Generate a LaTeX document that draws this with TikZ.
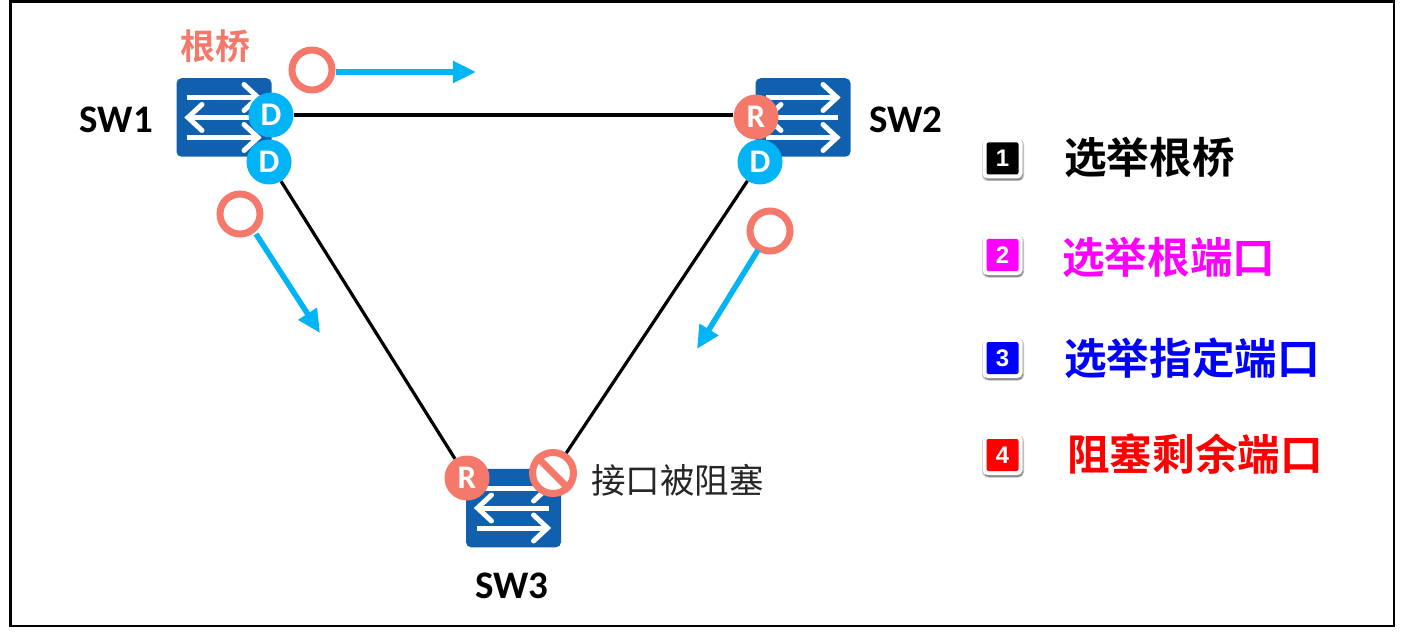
\documentclass[tikz,border=0pt]{standalone}
\usepackage{fontspec}
\setmainfont{Carlito}
\newfontfamily\cjk{Noto Sans CJK SC}
\newfontfamily\cjkb{Noto Sans CJK SC Bold}
\newfontfamily\digitfont{Liberation Sans Bold}
\usetikzlibrary{arrows.meta}
\definecolor{swblue}{HTML}{1160AE}
\definecolor{salmon}{HTML}{F4796A}
\definecolor{cyanb}{HTML}{00B4F6}
\definecolor{legmagenta}{HTML}{FF00FF}
\definecolor{legblue}{HTML}{0000FF}
\definecolor{legred}{HTML}{FF0000}
\tikzset{
  swbox/.style={fill=swblue,draw=none,rounded corners=5pt,minimum width=95pt,minimum height=78.5pt,inner sep=0pt},
  swname/.style={font=\bfseries\fontsize{39}{39}\selectfont,text=black,inner sep=0pt},
  port/.style={circle,minimum size=45pt,inner sep=0pt,text=white,font=\bfseries\fontsize{33}{33}\selectfont},
  dport/.style={port,fill=cyanb},
  rport/.style={port,fill=salmon},
  link/.style={draw=black,line width=3.2pt},
  flow/.style={draw=cyanb,line width=5.5pt,-{Triangle[length=23pt,width=21pt]}},
  marker/.style={circle,draw=salmon,line width=7pt,fill=white,minimum size=40pt,inner sep=0pt},
  iconline/.style={draw=white,line width=5pt},
  legshadow/.style={fill=black!22,rounded corners=6pt,minimum size=42pt,inner sep=0pt},
  legshadowb/.style={fill=black!45,rounded corners=5pt,minimum size=39pt,inner sep=0pt},
  legouter/.style={fill=white,rounded corners=5pt,minimum size=40pt,inner sep=0pt},
  leginner/.style={rounded corners=2pt,minimum size=32pt,inner sep=0pt,text=white,font=\digitfont\fontsize{24}{24}\selectfont},
  legtext/.style={font=\cjkb\fontsize{42.6}{42.6}\selectfont,inner sep=0pt,anchor=west},
}
\newcommand{\swicon}[2]{%
  \begin{scope}[shift={(#1,#2)}]
    \draw[iconline] (-37,-20) -- (34,-20);
    \draw[iconline,line cap=round] (20,-33) -- (34,-20) -- (20,-7);
    \draw[iconline] (35,0) -- (-36,0);
    \draw[iconline,line cap=round] (-22,-13) -- (-36,0) -- (-22,13);
    \draw[iconline] (-37,20) -- (34,20);
    \draw[iconline,line cap=round] (20,7) -- (34,20) -- (20,33);
  \end{scope}}
\newcommand{\legenditem}[4]{%
  \node[legshadow] (#1a) at (1003,#2+1.5) {};
  \node[legshadowb] (#1s) at (1003.5,#2+2.5) {};
  \node[legouter] (#1o) at (1002.5,#2) {};
  \node[leginner,fill=#3] (#1i) at (1002.5,#2) {#4};
}
\begin{document}
\begin{tikzpicture}[x=1pt,y=-1pt]
\useasboundingbox (0,0) rectangle (1404,636);
\fill[white] (0,0) rectangle (1404,636);
\draw[black,line width=2.2pt] (10.5,1.5) rectangle (1394,626);

% switches
\node[swbox] (sw1) at (224,117.5) {};
\node[swbox] (sw2) at (803,117.5) {};
\node[swbox] (sw3) at (513.5,508) {};
\swicon{224}{117.5}
\swicon{803}{117.5}
\swicon{513.5}{508}

% ports
\node[dport] (p1a) at (271,115) {D};
\node[dport] (p1b) at (269,162) {D};
\node[rport] (p2a) at (756,117) {R};
\node[dport] (p2b) at (760,162) {D};
\node[rport] (p3a) at (467,478) {R};
\node[circle,draw=salmon,line width=7pt,fill=white,minimum size=41pt,inner sep=0pt] (p3b) at (553,473) {};
\draw[salmon,line width=7pt] (p3b.north west) -- (p3b.south east);

% links
\draw[link] (p1a) -- (p1a -| p2a.west);
\draw[link] (p1b) -- (p3a);
\draw[link] (p2b) -- (p3b);

% names
\node[swname,anchor=east] (n1) at (153,120) {SW1};
\node[swname,anchor=west] (n2) at (869,120) {SW2};
\node[swname] (n3) at (512,586) {SW3};
\node[font=\cjkb\fontsize{35}{35}\selectfont,text=salmon,inner sep=0pt] (root) at (215.5,46) {根桥};
\node[font=\cjk\fontsize{34.5}{34.5}\selectfont,text=black!85,inner sep=0pt,anchor=west] (blk) at (591,480) {接口被阻塞};

% BPDU markers and flows
\node[marker] (m1) at (312,70) {};
\coordinate (e1) at (476,72);
\draw[flow] (m1.east |- e1) -- (e1);
\node[marker] (m2) at (240,214) {};
\coordinate (e2) at (320,333);
\draw[flow] (m2) ++(16,20) -- (e2);
\node[marker] (m3) at (770,231) {};
\coordinate (e3) at (697,349);
\draw[flow] (m3) ++(-12,19) -- (e3);

% legend
\legenditem{l1}{158.5}{black}{1}
\legenditem{l2}{255}{legmagenta}{2}
\legenditem{l3}{358}{legblue}{3}
\legenditem{l4}{455}{legred}{4}
\node[legtext,text=black] (t1) at (1064,157) {选举根桥};
\node[legtext,text=legmagenta] (t2) at (1062,257) {选举根端口};
\node[legtext,text=legblue] (t3) at (1064,358) {选举指定端口};
\node[legtext,text=legred] (t4) at (1067,454) {阻塞剩余端口};
\end{tikzpicture}
\end{document}
